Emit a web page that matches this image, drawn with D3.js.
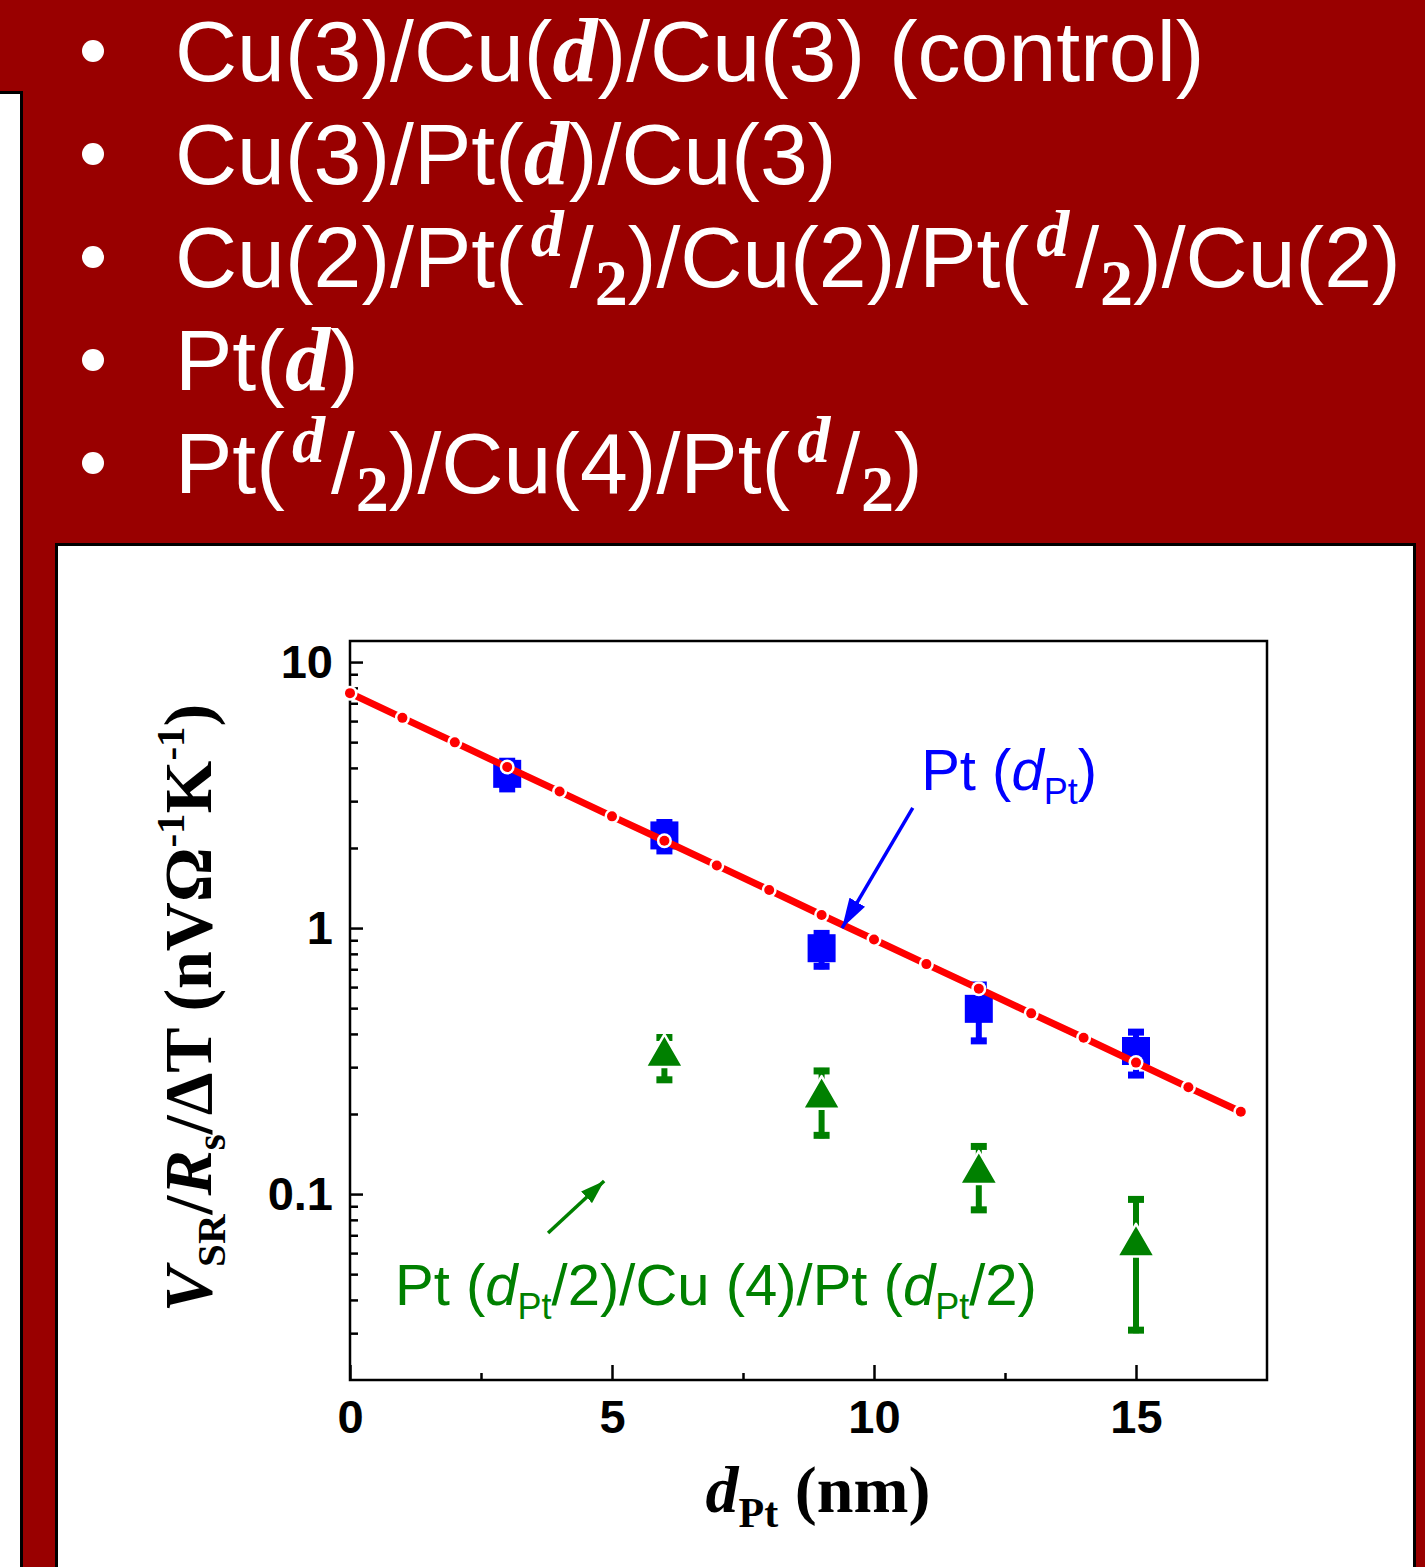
<!DOCTYPE html>
<head>
	<meta charset="utf-8" />
	<style>
		body {
			margin: 0;
			background-color: #990000;
			overflow: hidden;
		}
		svg {
			display: block;
		}
		.tick text {
			font: bold 47px 'Liberation Sans', Arial, sans-serif;
			fill: #000;
		}
		.tick line {
			stroke: #000;
			stroke-width: 2.5;
		}
	</style>
</head>

<body>
	<div id="chart-area"></div>

	<script src="https://cdnjs.cloudflare.com/ajax/libs/d3/7.8.5/d3.min.js"></script>

	<script>
		// data
		const ptD = [3, 6, 9, 12, 15];
		const ptV = [3.8, 2.23, 0.84, 0.497, 0.345];
		const ptErr = [0.55, 0.33, 0.14, 0.13, 0.072];

		const sandD = [6, 9, 12, 15];
		const sandV = [0.33, 0.23, 0.12, 0.064];
		const sandErr = [0.068, 0.068, 0.035, 0.034];

		// exponential fit through Pt(d) points, read at each integer d
		const fitD = [0, 1, 2, 3, 4, 5, 6, 7, 8, 9, 10, 11, 12, 13, 14, 15, 16, 17];
		const fitV = [7.64, 6.17, 4.99, 4.03, 3.26, 2.63, 2.13, 1.72, 1.39, 1.12, 0.906, 0.732, 0.592, 0.478, 0.387, 0.312, 0.252, 0.204];

		const xTicks = [0, 5, 10, 15];
		const xMinor = [2.5, 7.5, 12.5];
		const yTicks = [0.1, 1, 10];
		const yMinor = [0.03, 0.04, 0.05, 0.06, 0.07, 0.08, 0.09, 0.2, 0.3, 0.4, 0.5, 0.6, 0.7, 0.8, 0.9, 2, 3, 4, 5, 6, 7, 8, 9];

		// bullet lines: plain text 't', italic d 'd', fraction d/2 'f'
		const bullets = [
			[['t', 'Cu(3)/Cu('], ['d'], ['t', ')/Cu(3) (control)']],
			[['t', 'Cu(3)/Pt('], ['d'], ['t', ')/Cu(3)']],
			[['t', 'Cu(2)/Pt('], ['f'], ['t', ')/Cu(2)/Pt('], ['f'], ['t', ')/Cu(2)']],
			[['t', 'Pt('], ['d'], ['t', ')']],
			[['t', 'Pt('], ['f'], ['t', ')/Cu(4)/Pt('], ['f'], ['t', ')']],
		];

		const W = 1425,
			H = 1567;
		const blue = '#0000ff',
			green = '#008000',
			red = '#ff0000';

		const svg = d3
			.select('#chart-area')
			.append('svg')
			.attr('width', W)
			.attr('height', H);

		svg.append('rect').attr('width', W).attr('height', H).attr('fill', '#990000');

		// white boxes
		svg.append('rect')
			.attr('x', -10).attr('y', 92.5)
			.attr('width', 31.5).attr('height', 1600)
			.attr('fill', '#fff').attr('stroke', '#000').attr('stroke-width', 3);

		svg.append('rect')
			.attr('x', 56.5).attr('y', 544.5)
			.attr('width', 1358).attr('height', 1100)
			.attr('fill', '#fff').attr('stroke', '#000').attr('stroke-width', 3);

		// bullet list
		const sans = "'Liberation Sans', Arial, sans-serif";
		const serif = "'Liberation Serif', 'Times New Roman', serif";
		const lineY0 = 81,
			lineStep = 103;

		bullets.forEach((parts, i) => {
			const by = lineY0 + i * lineStep;
			svg.append('circle')
				.attr('cx', 93).attr('cy', by - 30).attr('r', 11)
				.attr('fill', '#fff');

			const t = svg.append('text')
				.attr('x', 175).attr('y', by)
				.attr('fill', '#fff')
				.style('font-family', sans)
				.style('font-size', '86px');

			let shift = 0; // pending baseline correction
			parts.forEach(p => {
				if (p[0] === 't') {
					t.append('tspan').attr('dy', shift).text(p[1]);
					shift = 0;
				} else if (p[0] === 'd') {
					t.append('tspan')
						.attr('dy', shift)
						.style('font-family', serif)
						.style('font-weight', 'bold')
						.style('font-style', 'italic')
						.style('font-size', '90px')
						.text('d');
					shift = 0;
				} else {
					t.append('tspan')
						.attr('dx', 7)
						.attr('dy', shift - 31)
						.style('font-family', serif)
						.style('font-weight', 'bold')
						.style('font-style', 'italic')
						.style('font-size', '66px')
						.text('d');
					t.append('tspan').attr('dy', 31).attr('dx', 6).text('/');
					t.append('tspan')
						.attr('dy', 18)
						.attr('dx', 1)
						.style('font-family', serif)
						.style('font-weight', 'bold')
						.style('font-size', '66px')
						.text('2');
					shift = -18;
				}
			});
		});

		// scales
		const x = d3.scaleLinear().domain([0, 17.5]).range([350, 1267]);
		const y = d3.scaleLog().domain([0.02, 12]).range([1380, 641]);

		const plot = svg.append('g');

		// axes, ticks pointing inward
		plot.append('g')
			.attr('transform', `translate(0,${y.range()[0]})`)
			.call(d3.axisBottom(x).tickValues(xTicks).tickSize(-15).tickPadding(20).tickFormat(d3.format('d')))
			.call(g => g.select('.domain').remove());

		plot.append('g')
			.attr('transform', `translate(0,${y.range()[0]})`)
			.call(d3.axisBottom(x).tickValues(xMinor).tickSize(-7).tickFormat(''))
			.call(g => g.select('.domain').remove());

		plot.append('g')
			.attr('transform', `translate(${x.range()[0]},0)`)
			.call(d3.axisLeft(y).tickValues(yTicks).tickSize(-13).tickPadding(17).tickFormat(d => String(d)))
			.call(g => g.select('.domain').remove());

		plot.append('g')
			.attr('transform', `translate(${x.range()[0]},0)`)
			.call(d3.axisLeft(y).tickValues(yMinor).tickSize(-8).tickFormat(''))
			.call(g => g.select('.domain').remove());

		// frame
		plot.append('rect')
			.attr('x', x.range()[0]).attr('y', y.range()[1])
			.attr('width', x.range()[1] - x.range()[0])
			.attr('height', y.range()[0] - y.range()[1])
			.attr('fill', 'none').attr('stroke', '#000').attr('stroke-width', 2.5);

		// error bars
		function errorBars(d, v, e, color) {
			const g = plot.append('g').attr('stroke', color).attr('stroke-width', 6);
			d.forEach((di, i) => {
				const cx = x(di),
					y1 = y(v[i] + e[i]),
					y2 = y(v[i] - e[i]);
				g.append('line').attr('x1', cx).attr('x2', cx).attr('y1', y1).attr('y2', y2);
				g.append('line').attr('x1', cx - 8).attr('x2', cx + 8).attr('y1', y1 + 3).attr('y2', y1 + 3).attr('stroke-width', 7);
				g.append('line').attr('x1', cx - 8).attr('x2', cx + 8).attr('y1', y2 - 3).attr('y2', y2 - 3).attr('stroke-width', 7);
			});
		}

		errorBars(sandD, sandV, sandErr, green);
		errorBars(ptD, ptV, ptErr, blue);

		plot.append('g')
			.selectAll('path')
			.data(sandD)
			.join('path')
			.attr('d', d3.symbol(d3.symbolTriangle, 620))
			.attr('transform', (d, i) => `translate(${x(d)},${y(sandV[i])})`)
			.attr('fill', green)
			.attr('stroke', '#fff')
			.attr('stroke-width', 2.5)
			.attr('stroke-linejoin', 'round');

		plot.append('g')
			.selectAll('rect')
			.data(ptD)
			.join('rect')
			.attr('x', d => x(d) - 14)
			.attr('y', (d, i) => y(ptV[i]) - 14)
			.attr('width', 28)
			.attr('height', 28)
			.attr('fill', blue);

		// fit line: red dashes broken by dots at each integer d
		plot.append('path')
			.datum(fitD)
			.attr('d', d3.line().x(d => x(d)).y((d, i) => y(fitV[i])))
			.attr('fill', 'none')
			.attr('stroke', red)
			.attr('stroke-width', 7);

		const dots = plot.append('g')
			.selectAll('g')
			.data(fitD)
			.join('g')
			.attr('transform', (d, i) => `translate(${x(d)},${y(fitV[i])})`);
		dots.append('circle').attr('r', 7.5).attr('fill', '#fff');
		dots.append('circle').attr('r', 5).attr('fill', red);

		// arrows
		const defs = svg.append('defs');
		[['arrB', blue, 30, 9], ['arrG', green, 24, 8]].forEach(([id, c, l, w]) => {
			defs.append('marker')
				.attr('id', id)
				.attr('markerUnits', 'userSpaceOnUse')
				.attr('viewBox', `${-l} ${-w} ${l} ${2 * w}`)
				.attr('refX', 0).attr('refY', 0)
				.attr('markerWidth', l).attr('markerHeight', 2 * w)
				.attr('orient', 'auto')
				.append('path')
				.attr('d', `M0,0L${-l},${-w}L${-l},${w}Z`)
				.attr('fill', c);
		});

		plot.append('line')
			.attr('x1', x(10.74)).attr('y1', y(2.83))
			.attr('x2', x(9.39)).attr('y2', y(1.0))
			.attr('stroke', blue).attr('stroke-width', 3.5)
			.attr('marker-end', 'url(#arrB)');

		plot.append('line')
			.attr('x1', x(3.78)).attr('y1', y(0.0714))
			.attr('x2', x(4.85)).attr('y2', y(0.112))
			.attr('stroke', green).attr('stroke-width', 3.5)
			.attr('marker-end', 'url(#arrG)');

		// annotations
		function label(px, py, color, parts) {
			const t = plot.append('text')
				.attr('x', px).attr('y', py)
				.attr('fill', color)
				.style('font-family', sans)
				.style('font-size', '58px');
			let shift = 0;
			parts.forEach(p => {
				if (p === 'd') {
					t.append('tspan').attr('dy', shift).style('font-style', 'italic').text('d');
					t.append('tspan').attr('dy', 14).style('font-size', '36px').text('Pt');
					shift = -14;
				} else {
					t.append('tspan').attr('dy', shift).text(p);
					shift = 0;
				}
			});
		}

		label(x(10.9), y(3.3), blue, ['Pt (', 'd', ')']);
		label(x(0.86), y(0.0383), green, ['Pt (', 'd', '/2)/Cu (4)/Pt (', 'd', '/2)']);

		// axis titles
		const xt = svg.append('text')
			.attr('x', 818).attr('y', 1512)
			.attr('text-anchor', 'middle')
			.style('font-family', serif)
			.style('font-weight', 'bold')
			.style('font-size', '66px');
		xt.append('tspan').style('font-style', 'italic').text('d');
		xt.append('tspan').attr('dy', 15).style('font-size', '42px').text('Pt');
		xt.append('tspan').attr('dy', -15).text(' (nm)');

		const yt = svg.append('text')
			.attr('transform', 'translate(211,1008) rotate(-90)')
			.attr('text-anchor', 'middle')
			.style('font-family', serif)
			.style('font-weight', 'bold')
			.style('font-size', '68px');
		yt.append('tspan').style('font-style', 'italic').text('V');
		yt.append('tspan').attr('dy', 14).style('font-size', '41px').text('SR');
		yt.append('tspan').attr('dy', -14).text('/');
		yt.append('tspan').style('font-style', 'italic').text('R');
		yt.append('tspan').attr('dy', 14).style('font-size', '41px').text('s');
		yt.append('tspan').attr('dy', -14).text('/ΔT (nVΩ');
		yt.append('tspan').attr('dy', -27).style('font-size', '41px').text('-1');
		yt.append('tspan').attr('dy', 27).text('K');
		yt.append('tspan').attr('dy', -27).style('font-size', '41px').text('-1');
		yt.append('tspan').attr('dy', 27).text(')');
	</script>
</body>
